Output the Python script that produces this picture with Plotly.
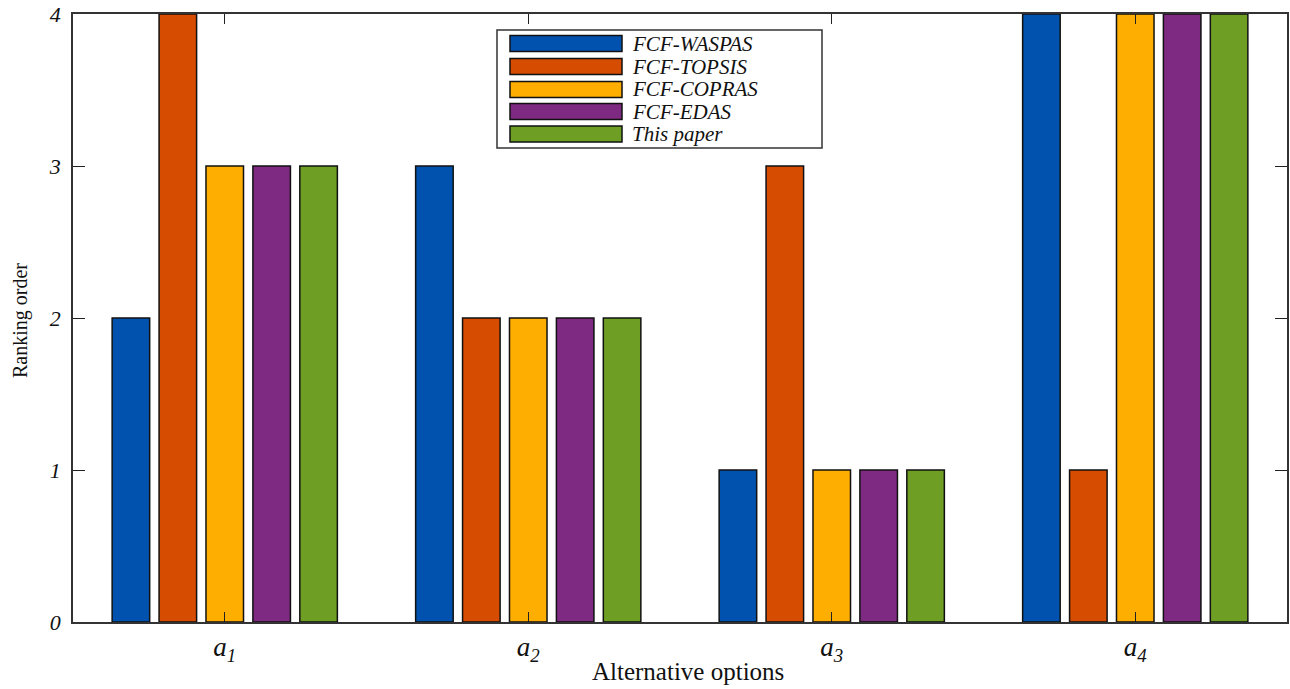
import plotly.graph_objects as go

# ---- data ----
categories = [1, 2, 3, 4]
tick_labels = ["<i>a</i><sub><i>1</i></sub>", "<i>a</i><sub><i>2</i></sub>",
               "<i>a</i><sub><i>3</i></sub>", "<i>a</i><sub><i>4</i></sub>"]
y_ticks = [0, 1, 2, 3, 4]
y_tick_labels = ["<i>0</i>", "<i>1</i>", "<i>2</i>", "<i>3</i>", "<i>4</i>"]
series_names = ["FCF-WASPAS", "FCF-TOPSIS", "FCF-COPRAS", "FCF-EDAS", "This paper"]
waspas = [2, 3, 1, 4]
topsis = [4, 2, 3, 1]
copras = [3, 2, 1, 4]
edas = [3, 2, 1, 4]
this_paper = [3, 2, 1, 4]
series_values = [waspas, topsis, copras, edas, this_paper]
colors = ["#0052AE", "#D64C00", "#FDAE00", "#7E2A82", "#6E9E24"]
x_title = "Alternative options"
y_title = "Ranking order"

W, H = 1290, 689
L, R, T, B = 73, 3, 14, 67
PW, PH = W - L - R, H - T - B

FONT = "Liberation Serif, Times New Roman, serif"

fig = go.Figure()
for name, vals, col in zip(series_names, series_values, colors):
    fig.add_trace(go.Bar(
        x=categories, y=vals, name=name,
        marker=dict(color=col, line=dict(color="#111111", width=1.5)),
        showlegend=False,
    ))

def px_to_paper_x(px):
    return (px - L) / PW

def px_to_paper_y(py):
    return (H - B - py) / PH

shapes = []
annotations = []
# legend box
shapes.append(dict(type="rect", xref="paper", yref="paper",
                   x0=px_to_paper_x(497), x1=px_to_paper_x(822),
                   y0=px_to_paper_y(148), y1=px_to_paper_y(30),
                   line=dict(color="#333333", width=1.5), fillcolor="white", layer="above"))
row_centers = [43.5, 66.5, 89.5, 111.5, 134]
for name, col, yc in zip(series_names, colors, row_centers):
    shapes.append(dict(type="rect", xref="paper", yref="paper",
                       x0=px_to_paper_x(510), x1=px_to_paper_x(622),
                       y0=px_to_paper_y(yc + 8), y1=px_to_paper_y(yc - 8),
                       line=dict(color="#111111", width=1.5), fillcolor=col, layer="above"))
    annotations.append(dict(xref="paper", yref="paper",
                            x=px_to_paper_x(630), y=px_to_paper_y(yc),
                            xanchor="left", yanchor="middle", showarrow=False,
                            text="<i>" + name + "</i>",
                            font=dict(family=FONT, size=21, color="#111111")))

# axis titles
annotations.append(dict(xref="paper", yref="paper",
                        x=px_to_paper_x(688), y=px_to_paper_y(671),
                        xanchor="center", yanchor="middle", showarrow=False,
                        text=x_title, font=dict(family=FONT, size=25, color="#111111")))
annotations.append(dict(xref="paper", yref="paper",
                        x=px_to_paper_x(20), y=px_to_paper_y(320),
                        xanchor="center", yanchor="middle", showarrow=False,
                        textangle=-90,
                        text=y_title, font=dict(family=FONT, size=20, color="#111111")))

fig.update_layout(
    width=W, height=H,
    margin=dict(l=L, r=R, t=T, b=B, autoexpand=False),
    paper_bgcolor="white", plot_bgcolor="white",
    barmode="group", bargap=0.227, bargroupgap=0.2,
    font=dict(family=FONT, color="#111111"),
    shapes=shapes, annotations=annotations,
    xaxis=dict(
        range=[0.5, 4.5], tickmode="array", tickvals=categories, ticktext=tick_labels,
        ticks="inside", ticklen=10, tickwidth=1.2, tickcolor="#222222",
        showline=True, linecolor="#333333", linewidth=1.5, mirror="allticks",
        showgrid=False, zeroline=False, automargin=False,
        tickfont=dict(family=FONT, size=27, color="#111111"),
    ),
    yaxis=dict(
        range=[0, 4], tickmode="array", tickvals=y_ticks, ticktext=y_tick_labels,
        ticks="inside", ticklen=12, tickwidth=1.2, tickcolor="#222222",
        showline=True, linecolor="#333333", linewidth=1.5, mirror="allticks",
        showgrid=False, zeroline=False, automargin=False,
        tickfont=dict(family=FONT, size=22, color="#111111"),
        ticklabelstandoff=6,
    ),
)

fig.write_html(
    "out.html",
    config={"displayModeBar": False},
    post_script="document.body.style.margin='0';document.body.style.overflow='hidden';",
)
